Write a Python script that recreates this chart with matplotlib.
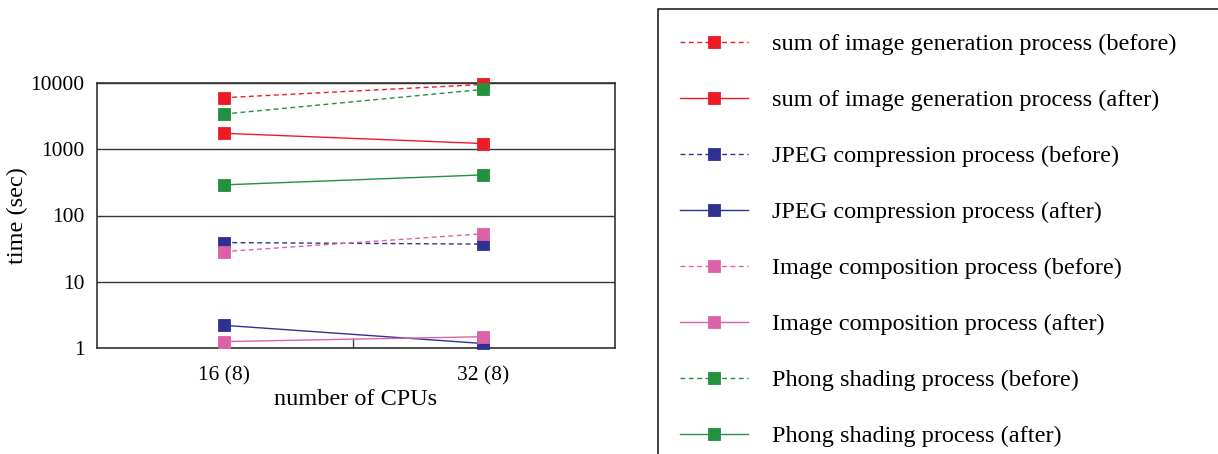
import matplotlib.pyplot as plt
from matplotlib.patches import Rectangle

plt.rcParams['font.family'] = ['Liberation Serif', 'DejaVu Serif']

# x axis categories
cpus = ['16 (8)', '32 (8)']

# times in seconds
sum_before = [6000, 9500]
sum_after = [1740, 1220]
jpeg_before = [39, 37]
jpeg_after = [2.2, 1.17]
comp_before = [28.5, 53]
comp_after = [1.25, 1.48]
phong_before = [3400, 8000]
phong_after = [290, 410]

red = '#ed1c24'
blue = '#2e3192'
pink = '#dc62a7'
green = '#23913f'

dash = (0, (3.5, 2.5))
series = [
    ('sum of image generation process (before)', sum_before, red, dash),
    ('sum of image generation process (after)', sum_after, red, '-'),
    ('JPEG compression process (before)', jpeg_before, blue, dash),
    ('JPEG compression process (after)', jpeg_after, blue, '-'),
    ('Image composition process (before)', comp_before, pink, dash),
    ('Image composition process (after)', comp_after, pink, '-'),
    ('Phong shading process (before)', phong_before, green, dash),
    ('Phong shading process (after)', phong_after, green, '-'),
]

fig = plt.figure(figsize=(12.18, 4.54), dpi=100)
ax = fig.add_axes([97 / 1218, 1 - 348 / 454, 518 / 1218, 265 / 454])

x = list(range(len(cpus)))
handles = []
for label, vals, col, ls in series:
    h, = ax.plot(x, vals, color=col, linestyle=ls, linewidth=1.0,
                 marker='s', markersize=9, markerfacecolor=col,
                 markeredgecolor=col, markeredgewidth=0.6,
                 label=label, clip_on=False, zorder=3)
    handles.append(h)

ax.set_yscale('log')
ax.set_ylim(1, 10000)
ax.set_xlim(-0.49, 1.51)
ax.set_yticks([1, 10, 100, 1000, 10000])
ax.set_yticklabels(['1', '10', '100', '1000', '10000'])
ax.minorticks_off()
ax.set_xticks(x)
ax.set_xticklabels(cpus)
ax.set_xticks([0.5], minor=True)
ax.tick_params(axis='both', which='major', length=0, labelsize=15.5)
ax.tick_params(axis='y', which='major', pad=9)
ax.tick_params(axis='x', which='major', pad=13)
ax.tick_params(axis='x', which='minor', direction='in', length=7, width=1, color='#444444')
ax.yaxis.grid(True, color='#333333', linewidth=1)
ax.set_axisbelow(True)
for s in ax.spines.values():
    s.set_color('#333333')
    s.set_linewidth(1.2)

ax.set_xlabel('number of CPUs', fontsize=17.5, labelpad=3)
ax.set_ylabel('time (sec)', fontsize=17.5, labelpad=2)

# legend box runs off the right and bottom edges
fig.patches.append(Rectangle((658 / 1218, -0.1), 0.6, 1 - 9 / 454 + 0.1,
                             transform=fig.transFigure, fill=False,
                             edgecolor='#222222', linewidth=1.2))
fig.legend(handles=handles, loc='upper left', frameon=False,
           bbox_to_anchor=(680 / 1218, 1 - 33 / 454), fontsize=17.5,
           handlelength=2.8, handletextpad=1.0, labelspacing=1.4,
           borderaxespad=0, borderpad=0)

fig.savefig('out.png', dpi=100)
